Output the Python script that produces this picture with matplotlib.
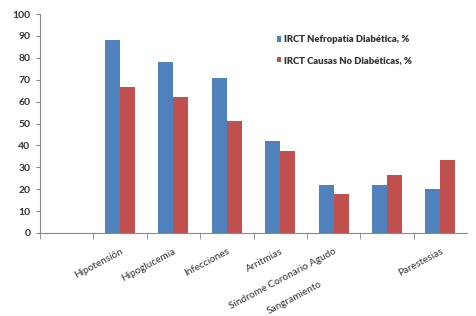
import matplotlib.pyplot as plt
import matplotlib.transforms as mtransforms
import numpy as np

categorias = ["", "Hipotensión", "Hipoglucemia", "Infecciones", "Arritmias",
              "Síndrome Coronario Agudo", "Sangramiento", "Parestesias"]
nefropatia = [np.nan, 88, 78, 71, 42, 22, 22, 20]
no_diabeticas = [np.nan, 66.7, 62.2, 51, 37.5, 18, 26.5, 33.3]
serie1 = "IRCT Nefropatía Diabética, %"
serie2 = "IRCT Causas No Diabéticas, %"

plt.rcParams['font.family'] = ['Lato', 'DejaVu Sans']

fig = plt.figure(figsize=(4.76, 3.16), dpi=100)
ax = fig.add_axes([40 / 476, 1 - 233 / 316, 427 / 476, 219 / 316])

x = np.arange(len(categorias))
w = 0.28
ax.bar(x - w / 2, nefropatia, w, color='#4F81BD', label=serie1)
ax.bar(x + w / 2, no_diabeticas, w, color='#C0504D', label=serie2)

ax.set_xlim(-0.5, len(categorias) - 0.5)
ax.set_ylim(0, 100)
ax.set_yticks(range(0, 101, 10))
ax.tick_params(axis='y', length=3, color='#888888', labelsize=7.5, pad=4)
for t in ax.get_yticklabels():
    t.set_fontweight('bold')
    t.set_color('#333333')

ax.set_xticks(x)
ax.set_xticklabels(categorias, rotation=28, ha='right', va='top',
                   rotation_mode='anchor', fontsize=7.2, color='#333333')
ax.tick_params(axis='x', length=0, pad=10)
ax.set_xticks(np.arange(len(categorias)) - 0.5, minor=True)
ax.tick_params(axis='x', which='minor', length=4, color='#888888')

# Excel draws "Sangramiento" out of place
lab = ax.get_xticklabels()[6]
lab.set_transform(lab.get_transform() +
                  mtransforms.ScaledTranslation(-0.68, -0.33, fig.dpi_scale_trans))

for s in ['top', 'right']:
    ax.spines[s].set_visible(False)
for s in ['left', 'bottom']:
    ax.spines[s].set_color('#888888')

leg = fig.legend(loc='upper left', bbox_to_anchor=(268 / 476, 1 - 27 / 316),
                 frameon=False, fontsize=6.8, handlelength=0.5, handleheight=0.5,
                 handletextpad=0.25, labelspacing=1.2)
for t in leg.get_texts():
    t.set_fontweight('heavy')
    t.set_color('#333333')

fig.savefig('out.png', dpi=100)
